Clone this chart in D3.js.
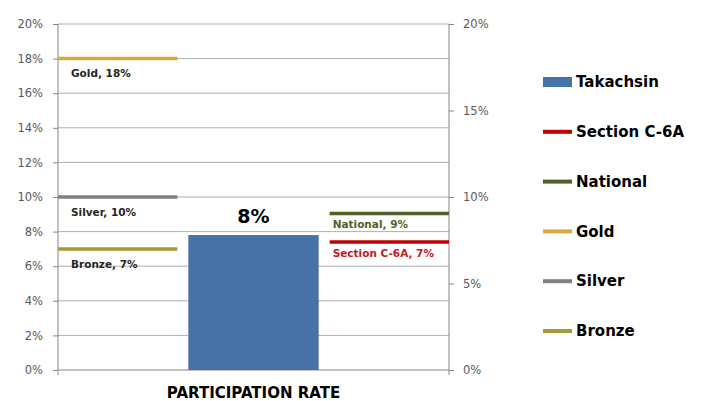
<!DOCTYPE html>
<html>
<head>
<meta charset="utf-8">
<script src="https://cdn.jsdelivr.net/npm/d3@7"></script>
<style>
  body { margin: 0; background: #fff; }
  svg { display: block; font-family: "DejaVu Sans", sans-serif; }
</style>
</head>
<body>
<div class="chart"></div>
<script>
// chart data
const slots = ["benchmarks", "PARTICIPATION RATE", "comparison"];
const barNames = ["Takachsin"];
const barValues = [7.8];
const barLabels = ["8%"];
const lineNames = ["Section C-6A", "National", "Gold", "Silver", "Bronze"];
const lineValues = [7.4, 9.05, 18, 10, 7];
const lineLabels = ["Section C-6A, 7%", "National, 9%", "Gold, 18%", "Silver, 10%", "Bronze, 7%"];
const lineSlots = ["comparison", "comparison", "benchmarks", "benchmarks", "benchmarks"];
const leftTicks = [0, 2, 4, 6, 8, 10, 12, 14, 16, 18, 20];
const rightTicks = [0, 5, 10, 15, 20];

const colors = {
  "Takachsin": "#4672a8",
  "Section C-6A": "#c00000",
  "National": "#4f6228",
  "Gold": "#dca73a",
  "Silver": "#808080",
  "Bronze": "#a89a38"
};
const labelColors = {
  "Section C-6A": "#c8161d",
  "National": "#4f6228",
  "Gold": "#262626",
  "Silver": "#262626",
  "Bronze": "#262626"
};

const W = 701, H = 401;
const margin = {top: 24, left: 58, right: 252, bottom: 31};
const width = W - margin.left - margin.right,
  height = H - margin.top - margin.bottom;

const svg = d3.select('.chart')
  .append('svg')
  .attr('width', W)
  .attr('height', H)
  .append('g')
  .attr('transform', 'translate(' + margin.left + ',' + margin.top + ')');

const xScale = d3.scaleBand()
  .domain(slots)
  .range([0, width]);

const yScale = d3.scaleLinear()
  .domain([0, 20])
  .range([height, 0]);

// gridlines
svg.append('g')
  .selectAll('line')
  .data(leftTicks.filter(d => d > 0))
  .join('line')
  .attr('x1', 0)
  .attr('x2', width)
  .attr('y1', d => yScale(d))
  .attr('y2', d => yScale(d))
  .attr('stroke', '#b0b0b0')
  .attr('stroke-width', 1);

const fmt = d => d + '%';

const yAxis = d3.axisLeft(yScale).tickValues(leftTicks).tickFormat(fmt).tickSize(5).tickPadding(10);
const yAxisR = d3.axisRight(yScale).tickValues(rightTicks).tickFormat(fmt).tickSize(5).tickPadding(9);

svg.append('g')
  .attr('class', 'axis y-axis')
  .call(yAxis);

svg.append('g')
  .attr('class', 'axis y-axis-right')
  .attr('transform', 'translate(' + width + ',0)')
  .call(yAxisR);

svg.selectAll('.axis .domain').remove();
svg.selectAll('.axis .tick line').attr('stroke', '#868686');
svg.selectAll('.axis text')
  .attr('fill', '#595959')
  .style('font-size', '11.5px')
  .style('font-family', '"DejaVu Sans", sans-serif');

// axis frame: bottom line and both verticals running a bit below zero
svg.append('line')
  .attr('x1', 0).attr('x2', width)
  .attr('y1', height).attr('y2', height)
  .attr('stroke', '#868686');
svg.selectAll('.vaxis')
  .data([0, width])
  .join('line')
  .attr('class', 'vaxis')
  .attr('x1', d => d).attr('x2', d => d)
  .attr('y1', 0).attr('y2', height + 5)
  .attr('stroke', '#868686');

// bar
const barW = xScale.bandwidth();
svg.selectAll('.bar')
  .data(barValues)
  .join('rect')
  .attr('class', 'bar')
  .attr('x', xScale("PARTICIPATION RATE"))
  .attr('y', d => yScale(d))
  .attr('width', barW)
  .attr('height', d => height - yScale(d))
  .attr('fill', (d, i) => colors[barNames[i]]);

svg.selectAll('.bar-label')
  .data(barValues)
  .join('text')
  .attr('class', 'bar-label')
  .attr('x', xScale("PARTICIPATION RATE") + barW / 2)
  .attr('y', d => yScale(d) - 12)
  .attr('text-anchor', 'middle')
  .style('font-size', '19px')
  .style('font-weight', 'bold')
  .attr('fill', '#000')
  .text((d, i) => barLabels[i]);

// benchmark lines
const pad = 11;
const lines = lineValues.map((v, i) => ({name: lineNames[i], value: v, label: lineLabels[i], slot: lineSlots[i]}));

svg.selectAll('.ref-line')
  .data(lines)
  .join('line')
  .attr('class', 'ref-line')
  .attr('x1', d => d.slot === 'benchmarks' ? xScale(d.slot) : xScale(d.slot) + pad)
  .attr('x2', d => d.slot === 'benchmarks' ? xScale(d.slot) + barW - pad : xScale(d.slot) + barW)
  .attr('y1', d => yScale(d.value))
  .attr('y2', d => yScale(d.value))
  .attr('stroke', d => colors[d.name])
  .attr('stroke-width', 3.5);

svg.selectAll('.ref-label')
  .data(lines)
  .join('text')
  .attr('class', 'ref-label')
  .attr('x', d => d.slot === 'benchmarks' ? xScale(d.slot) + 13 : xScale(d.slot) + pad + 3)
  .attr('y', d => yScale(d.value) + (d.slot === 'benchmarks' ? 15 : 11))
  .attr('dy', '0.35em')
  .attr('text-anchor', 'start')
  .style('font-size', '10.5px')
  .style('font-weight', 'bold')
  .attr('fill', d => labelColors[d.name])
  .text(d => d.label);

// x axis title
svg.append('text')
  .attr('x', xScale("PARTICIPATION RATE") + barW / 2)
  .attr('y', height + 28)
  .attr('text-anchor', 'middle')
  .style('font-size', '15px')
  .style('font-weight', 'bold')
  .attr('fill', '#000')
  .text("PARTICIPATION RATE");

// legend
const legendItems = barNames.concat(lineNames);
const legend = svg.append('g')
  .attr('transform', 'translate(' + (543 - margin.left) + ',' + (82 - margin.top) + ')');

const item = legend.selectAll('.legend-item')
  .data(legendItems)
  .join('g')
  .attr('class', 'legend-item')
  .attr('transform', (d, i) => 'translate(0,' + i * 49.8 + ')');

item.filter(d => barNames.includes(d))
  .append('rect')
  .attr('x', 0).attr('y', -5)
  .attr('width', 29).attr('height', 10)
  .attr('fill', d => colors[d]);

item.filter(d => !barNames.includes(d))
  .append('line')
  .attr('x1', 0).attr('x2', 29)
  .attr('y1', 0).attr('y2', 0)
  .attr('stroke', d => colors[d])
  .attr('stroke-width', 4);

item.append('text')
  .attr('x', 33)
  .attr('dy', '0.35em')
  .style('font-size', '15px')
  .style('font-weight', 'bold')
  .attr('fill', '#000')
  .text(d => d);
</script>
</body>
</html>
